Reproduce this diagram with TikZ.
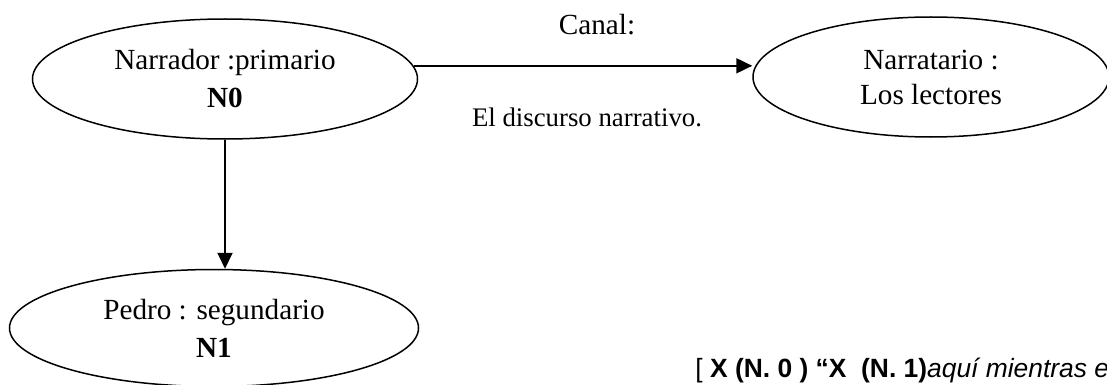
\documentclass[tikz,border=0pt]{standalone}
\usepackage{fontspec}
\setmainfont{Liberation Serif}
\newfontfamily\arialfont{Liberation Sans}
\usepackage{tikz}
\usetikzlibrary{positioning,shapes.geometric,arrows.meta}
\usepackage{xcolor}

\begin{document}
\begin{tikzpicture}[x=0.5pt,y=-0.5pt,
    >={Triangle[length=8pt,width=7.5pt]},
    narr/.style={draw,ellipse,line width=0.75pt,inner sep=0pt,align=center,
        font=\fontsize{14.6}{19}\selectfont}]

    \useasboundingbox (0,0) rectangle (1107,385);

    \node[narr,minimum width=192.5pt,minimum height=60pt] (NaPr) at (225,79) {Narrador :primario\\\textbf{N0}};
    \node[narr,minimum width=178pt,minimum height=60pt,font=\fontsize{14.6}{17.5}\selectfont] (NaLe) at (931,77) {Narratario :\\Los lectores};
    \node[narr,minimum width=204.5pt,minimum height=58.5pt] (PeSe) at (214,328) {Pedro : segundario\\\textbf{N1}};

    \node[font=\fontsize{14.6}{17}\selectfont] (Ca) at (597,25) {Canal:};
    \node[font=\fontsize{13.4}{16}\selectfont] (ElDi) at (587,117) {El discurso narrativo.};

    \node[anchor=base west,inner sep=0pt,font=\arialfont\fontsize{13.2}{16}\selectfont] (XN) at (695,377)
        {[ \textbf{X (N. 0 ) “X \ (N. 1)}\textit{aquí mientras e}};

    \draw[->,draw=black,line width=1pt] (NaPr.4) to (NaPr.4 -| NaLe.west);
    \draw[->,draw=black,line width=1pt] (NaPr.south) to (NaPr.south |- PeSe.north);

\end{tikzpicture}
\end{document}
